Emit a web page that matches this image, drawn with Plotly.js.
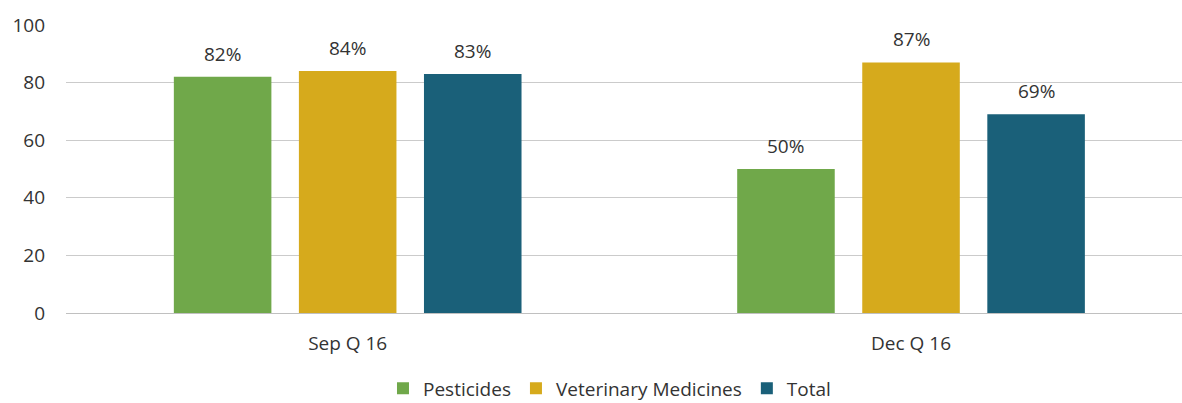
<!DOCTYPE html>
<html>
<head>
<meta charset="utf-8">
<script src="https://cdn.plot.ly/plotly-3.0.1.min.js"></script>
<style>html,body{margin:0;padding:0;background:#fff}#chart{width:1182px;height:403px}</style>
</head>
<body>
<div id="chart"></div>
<script>
const categories = ["Sep Q 16", "Dec Q 16"];
const seriesNames = ["Pesticides", "Veterinary Medicines", "Total"];
const pesticides = [82, 50];
const veterinaryMedicines = [84, 87];
const total = [83, 69];
const yTicks = [0, 20, 40, 60, 80, 100];

const colors = ["#70a84a", "#d6aa1c", "#1a6079"];
const seriesValues = [pesticides, veterinaryMedicines, total];
const font = {family: "Open Sans, Noto Sans, sans-serif", size: 19, color: "#333333"};

const bargap = 0.334, bargroupgap = 0.22;
const traces = seriesValues.map((vals, i) => ({
  type: "bar",
  name: seriesNames[i],
  x: categories,
  y: vals,
  marker: {color: colors[i]},
  hoverinfo: "none"
}));

const plotLeft = 66, plotRight = 1182;
const xRange = [-0.5, 1.481];
const pxPerUnit = (plotRight - plotLeft) / (xRange[1] - xRange[0]);
const slot = (1 - bargap) / seriesValues.length;
const annotations = [];
seriesValues.forEach((vals, i) => {
  vals.forEach((v, j) => {
    annotations.push({
      x: categories[j], y: v, xref: "x", yref: "y",
      text: v + "%", showarrow: false,
      xanchor: "center", yanchor: "bottom",
      xshift: (i - 1) * slot * pxPerUnit, yshift: 8,
      font: font
    });
  });
});

const layout = {
  width: 1182, height: 403,
  margin: {l: plotLeft, r: 0, t: 25, b: 90, autoexpand: false},
  paper_bgcolor: "#fff", plot_bgcolor: "#fff",
  barmode: "group", bargap: bargap, bargroupgap: bargroupgap,
  font: font,
  showlegend: true,
  legend: {orientation: "h", x: 0.487, xanchor: "center", y: -0.262, yanchor: "middle",
           font: font, itemclick: false, traceorder: "normal", itemwidth: 30},
  xaxis: {type: "category", range: xRange, showgrid: false, zeroline: false,
          showline: false, ticks: "", ticklabelstandoff: 17, tickfont: font, fixedrange: true},
  yaxis: {range: [0, 100], tickvals: yTicks, showgrid: true, gridcolor: "#cbcbcb", gridwidth: 1,
          zeroline: true, zerolinecolor: "#c0c0c0", zerolinewidth: 1, showline: false,
          ticks: "", ticklabelstandoff: 20, tickfont: font, fixedrange: true},
  annotations: annotations
};

Plotly.newPlot("chart", traces, layout, {displayModeBar: false, staticPlot: true});
</script>
</body>
</html>
